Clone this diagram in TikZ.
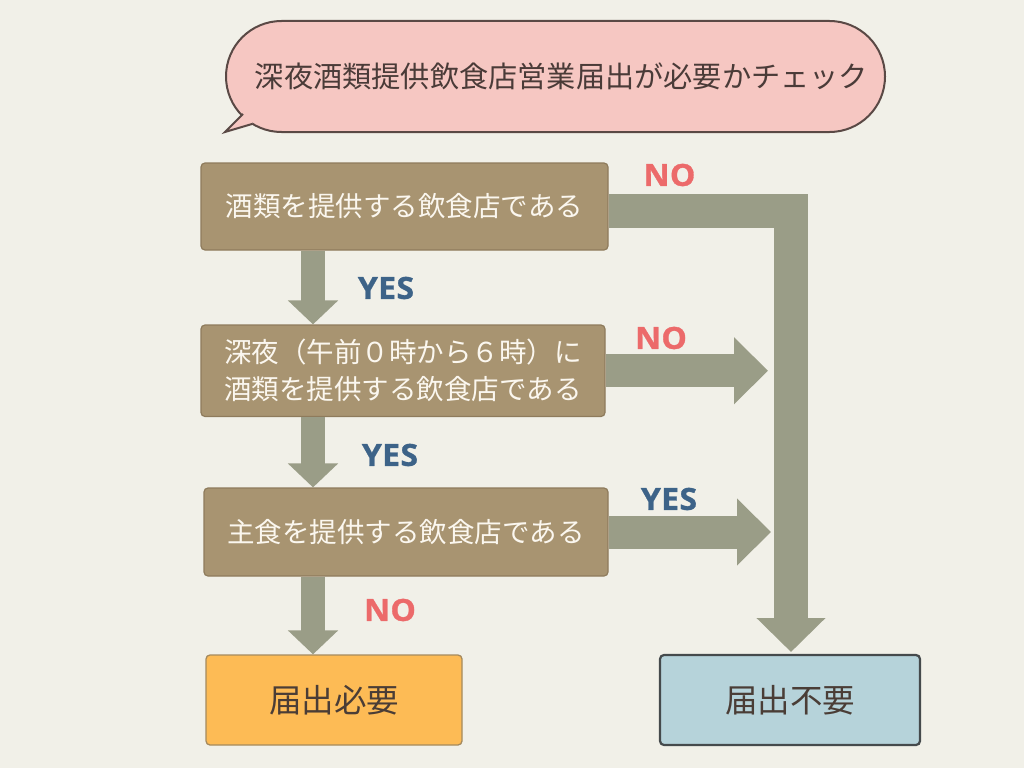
\documentclass[tikz,border=0pt]{standalone}
\usepackage{fontspec}
\setmainfont{Noto Sans CJK JP}
\newfontfamily\labfont{Open Sans}[FakeStretch=1.05, FakeBold=1, LetterSpace=1]
\usetikzlibrary{arrows.meta,shapes.misc}
\definecolor{bg}{HTML}{F1F0E8}
\definecolor{bubblefill}{HTML}{F6C7C2}
\definecolor{bubbleline}{HTML}{5A4945}
\definecolor{titletext}{HTML}{4A3B38}
\definecolor{boxfill}{HTML}{A89471}
\definecolor{boxline}{HTML}{8E7B5C}
\definecolor{boxtext}{HTML}{FBF7EF}
\definecolor{arr}{HTML}{9A9D87}
\definecolor{yescol}{HTML}{3D6388}
\definecolor{nocol}{HTML}{EC6A6A}
\definecolor{needfill}{HTML}{FDBB55}
\definecolor{needline}{HTML}{A58A5E}
\definecolor{notfill}{HTML}{B6D3DA}
\definecolor{notline}{HTML}{454A4C}
\definecolor{restext}{HTML}{4A3D36}
\tikzset{
  qbox/.style={draw=boxline, fill=boxfill, line width=1.2pt, rounded corners=4pt,
    text=boxtext, align=center, inner sep=0pt,
    font=\fontsize{27.5}{37}\selectfont},
  resbox/.style={rounded corners=4pt, inner sep=0pt, text=restext,
    minimum width=256pt, minimum height=90pt,
    font=\fontsize{32.5}{40}\selectfont},
  downarr/.style={draw=arr, line width=24pt, -{Triangle[width=49pt,length=24pt]}},
  harr/.style={draw=arr, line width=33pt, -{Triangle[width=65pt,length=34pt]}},
  larr/.style={draw=arr, line width=34pt, line join=miter, -{Triangle[width=67pt,length=34pt]}},
  lab/.style={inner sep=0pt, font=\labfont\bfseries\fontsize{30.5}{34}\selectfont},
  yeslab/.style={lab, text=yescol},
  nolab/.style={lab, text=nocol}
}
\begin{document}
\begin{tikzpicture}[x=1pt,y=-1pt]
\fill[bg] (0,0) rectangle (1024,768);
\useasboundingbox (0,0) rectangle (1024,768);

% speech bubble
\node[rounded rectangle, draw=bubbleline, fill=bubblefill, line width=2pt,
      minimum width=659pt, minimum height=111pt, inner sep=0pt] (bubble) at (555.5,76.5) {};
\coordinate (tA) at (243,114);
\coordinate (tT) at (225,132);
\coordinate (tB) at (252,124);
\coordinate (tC) at (258,100);
\fill[bubblefill] (tA) -- (tT) -- (tB) -- (tC) -- cycle;
\draw[bubbleline, line width=2pt, line join=miter] (tA) -- (tT) -- (tB);
\node[text=titletext, inner sep=0pt, font=\fontsize{29.2}{34}\selectfont] (title) at (561.5,76) {深夜酒類提供飲食店営業届出が必要かチェック};

% question boxes
\node[qbox, minimum width=407pt, minimum height=87pt] (b1) at (404.5,206.5) {酒類を提供する飲食店である};
\node[qbox, minimum width=404pt, minimum height=91.5pt] (b2) at (403,370.75) {深夜（午前０時から６時）に\\酒類を提供する飲食店である};
\node[qbox, minimum width=404pt, minimum height=88pt] (b3) at (406,532) {主食を提供する飲食店である};

% result boxes
\node[resbox, draw=needline, fill=needfill, line width=1.3pt] (need) at (334,700) {届出必要};
\node[resbox, draw=notline, fill=notfill, line width=2.2pt, minimum width=260pt] (notneed) at (790,700) {届出不要};

% helper coordinates
\coordinate (cx) at (313,0);
\coordinate (e2) at (768,0);
\coordinate (e3) at (771,0);
\coordinate (hy) at (0,211);
\coordinate (vend) at (791,652);

% down arrows
\draw[downarr] (b1.south -| cx) -- (b2.north -| cx);
\draw[downarr] (b2.south -| cx) -- (b3.north -| cx);
\draw[downarr] (b3.south -| cx) -- (need.north -| cx);

% right arrows
\draw[harr] (b2.east) -- (b2.east -| e2);
\draw[harr] (b3.east) -- (b3.east -| e3);
\draw[larr] (b1.east |- hy) -| (vend);

% labels
\node[nolab] (no1) at (669.5,175) {NO};
\node[yeslab] (yes1) at (386,288) {YES};
\node[nolab] (no2) at (661,338) {NO};
\node[yeslab] (yes2) at (390,455) {YES};
\node[yeslab] (yes3) at (669,499) {YES};
\node[nolab] (no3) at (390,610) {NO};
\end{tikzpicture}
\end{document}
